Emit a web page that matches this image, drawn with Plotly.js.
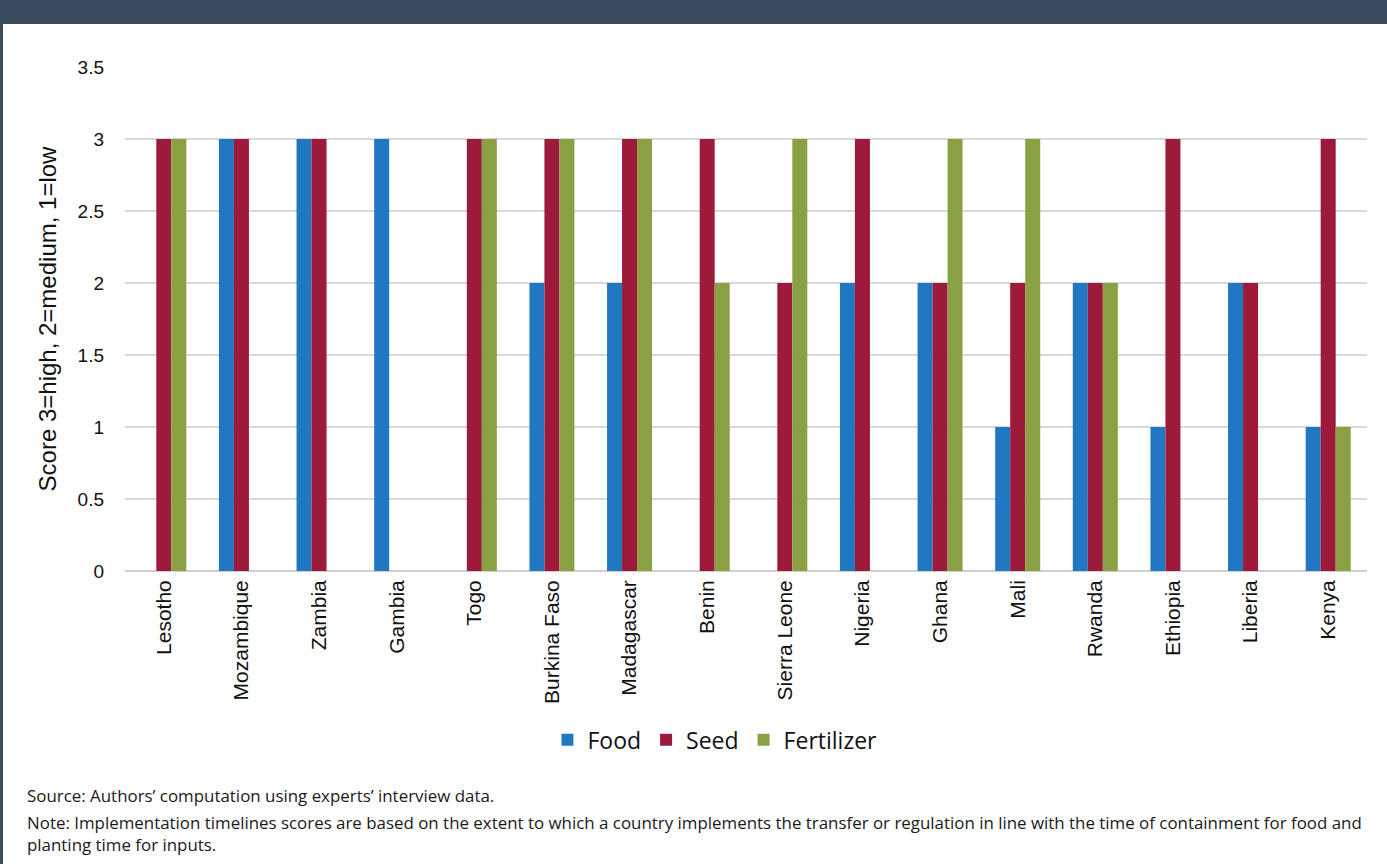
<!DOCTYPE html>
<html>
<head>
<meta charset="utf-8">
<script src="https://cdn.plot.ly/plotly-3.0.1.min.js"></script>
<style>
  html, body { margin: 0; padding: 0; background: #ffffff; }
  #wrap { position: relative; width: 1387px; height: 864px; overflow: hidden; }
  #header { position: absolute; left: 0; top: 0; width: 1387px; height: 24px; background: #3b4c5e; z-index: 5; }
  #stripe { position: absolute; left: 0; top: 0; width: 3px; height: 864px; background: #3b4c5e; z-index: 5; }
  #chart { position: absolute; left: 0; top: 0; width: 1387px; height: 864px; }
</style>
</head>
<body>
<div id="wrap">
  <div id="chart"></div>
  <div id="header"></div>
  <div id="stripe"></div>
</div>
<script>
const countries = ["Lesotho","Mozambique","Zambia","Gambia","Togo","Burkina Faso","Madagascar","Benin","Sierra Leone","Nigeria","Ghana","Mali","Rwanda","Ethiopia","Liberia","Kenya"];
const food       = [0,3,3,3,0,2,2,0,0,2,2,1,2,1,2,1];
const seed       = [3,3,3,0,3,3,3,3,2,3,2,2,2,3,2,3];
const fertilizer = [3,0,0,0,3,3,3,2,3,0,3,3,2,0,0,1];
const yTicks = [0,0.5,1,1.5,2,2.5,3,3.5];
const yTickText = ["0","0.5","1","1.5","2","2.5","3","3.5"];
const yTitle = "Score 3=high, 2=medium, 1=low";
const sourceText = "Source: Authors’ computation using experts’ interview data.";
const noteText = "Note: Implementation timelines scores are based on the extent to which a country implements the transfer or regulation in line with the time of containment for food and<br>planting time for inputs.";

const fontFam = "Liberation Sans, Arial, sans-serif";
const traces = [
  {type:"bar", name:"Food", x:countries, y:food, marker:{color:"#1f78c1"}},
  {type:"bar", name:"Seed", x:countries, y:seed, marker:{color:"#9e1a3a"}},
  {type:"bar", name:"Fertilizer", x:countries, y:fertilizer, marker:{color:"#89a143"}}
];

const layout = {
  width: 1387, height: 864,
  margin: {l:125, r:20, t:67, b:293, pad:0},
  paper_bgcolor: "#ffffff", plot_bgcolor: "#ffffff",
  barmode: "group", bargap: 0.42, bargroupgap: 0,
  font: {family: fontFam, color: "#1a1a1a", size: 19},
  showlegend: true,
  legend: {orientation:"h", x:0.475, xanchor:"center", y:-0.335, yanchor:"middle",
           font:{family:"Open Sans, sans-serif", size:23, color:"#111"}, itemwidth:30, traceorder:"normal"},
  xaxis: {type:"category", tickangle:-90, tickfont:{size:21, family:fontFam, color:"#111"},
          showgrid:false, showline:false, ticks:"", ticklabelstandoff: 4},
  yaxis: {range:[0,3.5], tickvals:yTicks, ticktext:yTickText, tickfont:{size:19, family:fontFam, color:"#111"},
          showgrid:true, gridcolor:"#d9d9d9", gridwidth:1.5, zeroline:true, zerolinecolor:"#cfcfcf", zerolinewidth:1.5,
          ticks:"", ticklabelstandoff: 20,
          title:{text:yTitle, font:{size:24, family:fontFam, color:"#111"}, standoff: 14}},
  annotations: [
    {text: sourceText, xref:"paper", yref:"paper", x:(25-125)/1242, y:(571-795)/504, xanchor:"left", yanchor:"middle",
     showarrow:false, align:"left", font:{family:"Open Sans, sans-serif", size:16.9, color:"#1a1a1a"}},
    {text: noteText, xref:"paper", yref:"paper", x:(25-125)/1242, y:(571-833)/504, xanchor:"left", yanchor:"middle",
     showarrow:false, align:"left", font:{family:"Open Sans, sans-serif", size:16.9, color:"#1a1a1a"}}
  ]
};
Plotly.newPlot("chart", traces, layout, {displayModeBar:false, staticPlot:true});
</script>
</body>
</html>
